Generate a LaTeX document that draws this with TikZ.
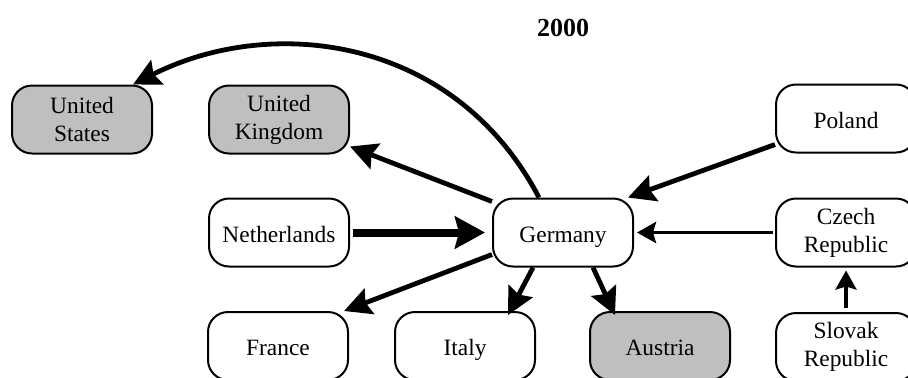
\documentclass[tikz,border=0pt]{standalone}
\usepackage{fontspec}
\setmainfont{Liberation Serif}
\usepackage{tikz}
\usetikzlibrary{arrows.meta}
\tikzset{
  country/.style={rectangle,draw,rounded corners=10pt,line width=1pt,
    minimum width=70pt,minimum height=34pt,inner sep=2pt,align=center,
    font=\fontsize{11.7}{14}\selectfont},
  oneline/.style={text height=9.5pt,text depth=0pt},
  partner/.style={country,fill=black!25},
  flow/.style={line width=2.4pt,-{Stealth[length=13.5pt,width=13.5pt,inset=2pt]}},
  bigflow/.style={line width=4pt,-{Stealth[length=15pt,width=16pt,inset=2pt]}},
  smallflow/.style={line width=1.8pt,-{Stealth[length=9.5pt,width=10.5pt,inset=1.5pt]}}
}

\begin{document}
\begin{tikzpicture}[x=0.5pt,y=-0.5pt]
	\useasboundingbox (0,0) rectangle (908,377);
	\node [font=\bfseries\fontsize{13}{15}\selectfont] (year) at (563,28) {2000};
	% top row
	\node [partner] (us) at (82,119.5) {United\\States};
	\node [partner] (uk) at (279,119.5) {United\\Kingdom};
	\node [country,oneline] (pl) at (846,118.5) {Poland};
	% middle row
	\node [country,oneline] (nl) at (279,232.5) {Netherlands};
	\node [country,oneline] (de) at (563,232.5) {Germany};
	\node [country] (cz) at (846,232.5) {Czech\\Republic};
	% bottom row
	\node [country,oneline] (fr) at (278,346) {France};
	\node [country,oneline] (it) at (465,346) {Italy};
	\node [partner,oneline] (at) at (660,346) {Austria};
	\node [country] (sk) at (846,347) {Slovak\\Republic};
	% flows
	\draw [flow] ([xshift=-12pt]de.north) .. controls +(-85,-162) and +(138,-70) .. ([xshift=-10pt]us.north east);
	\draw [flow] ([yshift=-2pt]de.north west) -- ([yshift=4pt]uk.south east);
	\draw [flow] ([yshift=4.5pt]pl.south west) -- ([xshift=-3pt]de.north east);
	\draw [bigflow,shorten <=1.5pt,shorten >=3.5pt] (nl.east) -- (de.west);
	\draw [smallflow,shorten <=1pt,shorten >=1.5pt] (cz.west) -- (de.east);
	\draw [smallflow,shorten <=2pt,shorten >=1.5pt] (sk.north) -- (cz.south);
	\draw [flow] ([yshift=6.5pt]de.south west) -- ([xshift=-2.5pt]fr.north east);
	\draw [flow] ([xshift=-15pt]de.south) -- ([xshift=-14pt,yshift=-2pt]it.north east);
	\draw [flow] ([xshift=15pt]de.south) -- ([xshift=13pt,yshift=-2pt]at.north west);
\end{tikzpicture}
\end{document}
